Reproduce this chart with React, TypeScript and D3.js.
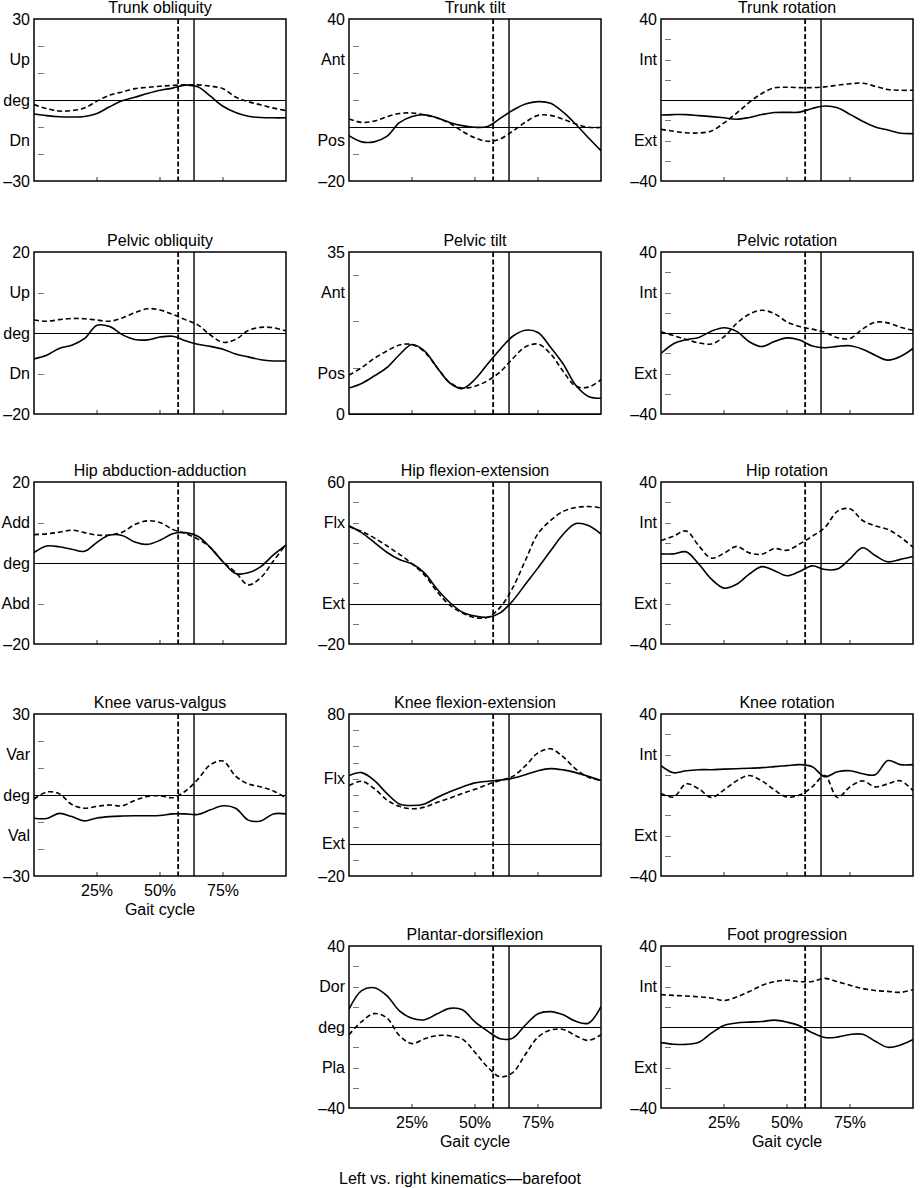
import React from 'react'
import * as d3 from 'd3'

const W = 920
const H = 1188
const FONT = '"Liberation Sans", Arial, Helvetica, sans-serif'

// frame geometry of the 3 x 5 grid
const COL_X = [34, 349, 661]
const ROW_Y = [19, 252, 482, 714, 946]
const FRAME_W = 252
const FRAME_H = 162

// gait cycle sample points (% of cycle)
const GAIT_PCT = [0, 5, 10, 15, 20, 25, 30, 35, 40, 45, 50, 55, 60, 65, 70, 75, 80, 85, 90, 95, 100]
const X_TICKS = [25, 50, 75]
const X_TICK_LABELS = ['25%', '50%', '75%']

// toe-off events (% gait cycle): dashed side, solid side
const TOE_OFF_DASHED = 57.2
const TOE_OFF_SOLID = 63.5

// ---- series values (deg) ----
const trunkObliquitySolid = [-5.2, -5.8, -6.2, -6.3, -6.1, -5.0, -2.5, -0.3, 1.0, 2.4, 3.6, 4.4, 5.5, 4.9, 1.4, -2.3, -4.6, -6.0, -6.5, -6.6, -6.6]
const trunkObliquityDashed = [-1.7, -3.2, -4.1, -3.9, -3.0, -0.4, 1.8, 3.0, 4.2, 4.7, 5.1, 5.4, 5.6, 5.6, 5.1, 4.2, 1.1, -0.6, -1.8, -3.0, -3.9]

const trunkTiltSolid = [-3.2, -5.5, -5.5, -3.5, 1.6, 3.9, 4.5, 3.4, 1.7, 0.5, -0.1, 0.2, 3.2, 6.2, 8.5, 9.4, 8.8, 5.5, 1.0, -4.0, -8.8]
const trunkTiltDashed = [3.0, 1.7, 2.2, 3.8, 5.0, 5.2, 4.5, 3.3, 1.4, -1.6, -4.0, -5.3, -4.4, -1.5, 1.8, 4.3, 4.3, 2.9, 1.1, -0.1, -0.2]

const trunkRotationSolid = [-7.4, -7.2, -7.2, -7.7, -8.2, -8.8, -9.5, -8.6, -7.2, -6.2, -6.1, -6.0, -4.2, -3.0, -3.8, -7.1, -10.5, -13.3, -14.8, -16.4, -16.6]
const trunkRotationDashed = [-14.5, -15.4, -16.2, -16.3, -15.3, -11.3, -6.5, -1.2, 3.2, 6.0, 6.3, 6.1, 6.1, 6.5, 7.3, 8.0, 8.3, 6.8, 5.2, 4.8, 4.8]

const pelvicObliquitySolid = [-6.4, -5.5, -3.8, -3.0, -1.4, 1.9, 1.6, -0.4, -1.6, -1.7, -1.0, -0.8, -1.9, -2.8, -3.3, -4.0, -5.2, -5.9, -6.6, -6.9, -6.9]
const pelvicObliquityDashed = [3.2, 2.9, 3.3, 3.6, 3.5, 3.2, 2.9, 3.7, 5.0, 6.0, 5.7, 4.6, 3.3, 2.0, -0.5, -2.3, -1.6, 0.6, 1.4, 1.3, 0.5]

const pelvicTiltSolid = [5.6, 6.6, 8.2, 10.0, 12.8, 15.0, 13.6, 10.0, 6.7, 5.5, 7.5, 10.8, 14.0, 16.8, 18.1, 17.6, 14.4, 10.8, 6.2, 3.8, 3.4]
const pelvicTiltDashed = [8.4, 10.0, 12.0, 13.6, 14.9, 15.0, 13.4, 10.0, 6.8, 5.6, 6.0, 7.2, 9.1, 12.0, 14.5, 15.1, 13.0, 9.2, 6.0, 5.8, 7.4]

const pelvicRotationSolid = [-10.1, -5.3, -3.3, -2.2, 0.9, 2.6, 0.8, -4.3, -6.7, -4.2, -2.4, -3.5, -6.4, -7.3, -6.6, -6.3, -8.0, -11.0, -13.4, -11.6, -7.6]
const pelvicRotationDashed = [0.6, -1.3, -3.2, -4.9, -5.4, -1.9, 4.7, 9.3, 11.2, 9.6, 5.5, 3.2, 1.9, 0.4, -2.3, -2.7, 2.0, 5.3, 5.0, 2.8, 1.4]

const hipAbductionSolid = [2.6, 4.2, 4.0, 3.4, 2.9, 5.1, 6.9, 6.8, 5.2, 4.6, 5.6, 7.2, 7.5, 6.6, 3.8, 0.3, -2.6, -2.4, -0.9, 2.0, 4.4]
const hipAbductionDashed = [7.0, 7.2, 7.6, 8.1, 7.5, 6.9, 6.9, 7.6, 9.5, 10.4, 10.0, 8.3, 7.3, 5.9, 3.8, 0.3, -2.3, -5.4, -3.6, 0.5, 4.6]

const hipFlexionSolid = [38.4, 35.0, 30.2, 25.3, 21.7, 19.6, 15.0, 7.0, 0.5, -4.3, -6.2, -6.8, -4.6, 1.4, 9.5, 17.6, 26.0, 34.2, 39.5, 38.5, 34.3]
const hipFlexionDashed = [37.9, 35.6, 32.4, 28.5, 24.3, 19.6, 14.0, 5.8, -0.8, -4.7, -7.0, -6.8, -1.9, 7.8, 21.3, 34.5, 41.0, 45.5, 47.4, 47.9, 47.2]

const hipRotationSolid = [4.5, 4.5, 5.5, -0.5, -8.0, -12.4, -10.5, -5.5, -1.8, -3.8, -6.3, -4.2, -1.4, -3.2, -3.0, 2.0, 7.5, 3.7, 0.6, 1.8, 3.2]
const hipRotationDashed = [11.1, 13.3, 15.8, 8.5, 2.4, 4.8, 8.2, 5.0, 4.3, 7.1, 6.3, 9.4, 13.2, 17.5, 25.5, 26.8, 21.0, 18.3, 16.6, 12.8, 7.8]

const kneeVarusSolid = [-8.6, -8.7, -6.8, -8.0, -9.6, -8.5, -8.0, -7.8, -7.7, -7.7, -7.6, -7.0, -7.0, -7.2, -5.5, -4.0, -4.9, -9.3, -9.6, -7.0, -7.0]
const kneeVarusDashed = [-1.5, 1.1, 0.5, -3.5, -4.9, -4.2, -3.7, -4.0, -2.0, -0.5, -0.3, -1.0, 1.4, 5.8, 11.2, 12.6, 7.0, 4.1, 3.0, 1.5, -1.1]

const kneeFlexionSolid = [42.0, 43.8, 39.0, 31.0, 24.5, 23.5, 24.5, 28.5, 32.0, 35.0, 37.5, 38.5, 39.2, 40.3, 42.5, 45.0, 46.3, 45.5, 43.8, 41.5, 38.9]
const kneeFlexionDashed = [35.8, 38.5, 34.0, 27.0, 23.0, 21.5, 22.5, 25.5, 28.0, 31.0, 33.5, 36.5, 39.0, 41.5, 48.0, 56.0, 58.5, 53.5, 46.0, 41.0, 38.9]

const kneeRotationSolid = [14.5, 11.0, 12.0, 12.5, 12.5, 12.8, 13.0, 13.2, 13.5, 14.0, 14.5, 15.0, 14.0, 9.0, 11.5, 12.0, 10.5, 10.0, 17.0, 15.0, 15.0]
const kneeRotationDashed = [0.7, -1.0, 5.5, 3.0, -1.2, 2.5, 7.0, 9.6, 7.0, 2.5, -1.0, 0.0, 4.0, 9.6, -1.2, 4.0, 7.0, 4.0, 5.5, 7.0, 2.2]

const plantarSolid = [8.8, 18.0, 19.4, 15.5, 8.0, 4.3, 3.6, 6.5, 9.2, 8.5, 2.5, -2.0, -5.8, -5.5, 1.0, 6.5, 7.6, 6.0, 2.8, 1.9, 10.1]
const plantarDashed = [-3.8, 2.7, 6.6, 4.5, -4.2, -8.2, -5.8, -4.2, -4.3, -6.0, -12.5, -19.8, -24.6, -22.5, -13.5, -5.0, -1.5, -1.2, -4.3, -6.6, -3.8]

const footProgressionSolid = [-7.7, -8.5, -8.6, -7.5, -3.0, 0.8, 2.0, 2.4, 2.7, 3.4, 2.4, 0.6, -2.8, -5.2, -5.0, -3.7, -3.6, -7.0, -10.0, -8.9, -6.2]
const footProgressionDashed = [16.0, 15.6, 15.3, 14.9, 14.3, 13.1, 14.8, 17.5, 20.5, 22.4, 23.1, 22.4, 22.5, 24.0, 22.4, 20.6, 19.0, 18.0, 17.6, 17.1, 18.4]

type Label = [string, number] // text, fraction from top of frame
type PanelDef = {
  title: string
  col: number
  row: number
  domain: [number, number]
  labels: Label[]
  solid: number[]
  dashed: number[]
  xLabels?: boolean
}

const mid3 = (a: string, b: string): Label[] => [[a, 0.25], ['deg', 0.5], [b, 0.75]]
const mid2 = (a: string, b: string): Label[] => [[a, 0.25], [b, 0.75]]

const PANELS: PanelDef[] = [
  { title: 'Trunk obliquity', col: 0, row: 0, domain: [-30, 30], labels: mid3('Up', 'Dn'), solid: trunkObliquitySolid, dashed: trunkObliquityDashed },
  { title: 'Trunk tilt', col: 1, row: 0, domain: [-20, 40], labels: mid2('Ant', 'Pos'), solid: trunkTiltSolid, dashed: trunkTiltDashed },
  { title: 'Trunk rotation', col: 2, row: 0, domain: [-40, 40], labels: mid2('Int', 'Ext'), solid: trunkRotationSolid, dashed: trunkRotationDashed },
  { title: 'Pelvic obliquity', col: 0, row: 1, domain: [-20, 20], labels: mid3('Up', 'Dn'), solid: pelvicObliquitySolid, dashed: pelvicObliquityDashed },
  { title: 'Pelvic tilt', col: 1, row: 1, domain: [0, 35], labels: mid2('Ant', 'Pos'), solid: pelvicTiltSolid, dashed: pelvicTiltDashed },
  { title: 'Pelvic rotation', col: 2, row: 1, domain: [-40, 40], labels: mid2('Int', 'Ext'), solid: pelvicRotationSolid, dashed: pelvicRotationDashed },
  { title: 'Hip abduction-adduction', col: 0, row: 2, domain: [-20, 20], labels: mid3('Add', 'Abd'), solid: hipAbductionSolid, dashed: hipAbductionDashed },
  { title: 'Hip flexion-extension', col: 1, row: 2, domain: [-20, 60], labels: mid2('Flx', 'Ext'), solid: hipFlexionSolid, dashed: hipFlexionDashed },
  { title: 'Hip rotation', col: 2, row: 2, domain: [-40, 40], labels: mid2('Int', 'Ext'), solid: hipRotationSolid, dashed: hipRotationDashed },
  { title: 'Knee varus-valgus', col: 0, row: 3, domain: [-30, 30], labels: mid3('Var', 'Val'), solid: kneeVarusSolid, dashed: kneeVarusDashed, xLabels: true },
  { title: 'Knee flexion-extension', col: 1, row: 3, domain: [-20, 80], labels: [['Flx', 0.4], ['Ext', 0.8]], solid: kneeFlexionSolid, dashed: kneeFlexionDashed },
  { title: 'Knee rotation', col: 2, row: 3, domain: [-40, 40], labels: mid2('Int', 'Ext'), solid: kneeRotationSolid, dashed: kneeRotationDashed },
  { title: 'Plantar-dorsiflexion', col: 1, row: 4, domain: [-40, 40], labels: mid3('Dor', 'Pla'), solid: plantarSolid, dashed: plantarDashed, xLabels: true },
  { title: 'Foot progression', col: 2, row: 4, domain: [-40, 40], labels: mid2('Int', 'Ext'), solid: footProgressionSolid, dashed: footProgressionDashed, xLabels: true },
]

const fmt = (v: number) => (v < 0 ? '\u2013' + Math.abs(v) : String(v))

function Panel({ p, idx }: { p: PanelDef; idx: number }) {
  const x0 = COL_X[p.col]
  const y0 = ROW_Y[p.row]
  const x = d3.scaleLinear().domain([0, 100]).range([x0, x0 + FRAME_W])
  const y = d3.scaleLinear().domain(p.domain).range([y0 + FRAME_H, y0])

  const line = d3.line<number>()
    .x((_, i) => x(GAIT_PCT[i]))
    .y((d) => y(d))
    .curve(d3.curveCatmullRom.alpha(0.5))

  // minor y ticks every 10 deg, skipping the ends and zero
  const yTicks = d3.range(p.domain[0], p.domain[1] + 0.001, 10)
    .filter((v) => v !== 0 && v !== p.domain[0] && v !== p.domain[1])

  const clipId = `clip-${idx}`
  const labelX = x0 - 4
  const zeroY = Math.round(y(0)) + 0.5

  return (
    <g>
      <defs>
        <clipPath id={clipId}>
          <rect x={x0} y={y0} width={FRAME_W} height={FRAME_H} />
        </clipPath>
      </defs>

      <text x={x0 + FRAME_W / 2} y={y0 - 6} textAnchor="middle" fontSize={16}>{p.title}</text>

      {/* y labels */}
      <text x={labelX} y={y0} textAnchor="end" dominantBaseline="central" fontSize={16}>{fmt(p.domain[1])}</text>
      <text x={labelX} y={y0 + FRAME_H} textAnchor="end" dominantBaseline="central" fontSize={16}>{fmt(p.domain[0])}</text>
      {p.labels.map(([t, f]) => (
        <text key={t} x={labelX} y={y0 + FRAME_H * f} textAnchor="end" dominantBaseline="central" fontSize={16}>{t}</text>
      ))}

      {/* minor ticks */}
      {yTicks.map((v) => (
        <line key={v} x1={x0 + 4} x2={x0 + 10} y1={Math.round(y(v)) + 0.5} y2={Math.round(y(v)) + 0.5} stroke="#777" strokeWidth={1} />
      ))}
      {X_TICKS.map((v) => (
        <line key={v} x1={x(v)} x2={x(v)} y1={y0 + FRAME_H} y2={y0 + FRAME_H - 4} stroke="#333" strokeWidth={1} />
      ))}

      {/* zero line */}
      <line x1={x0} x2={x0 + FRAME_W} y1={zeroY} y2={zeroY} stroke="#000" strokeWidth={1} />

      {/* toe-off markers */}
      <line x1={x(TOE_OFF_DASHED)} x2={x(TOE_OFF_DASHED)} y1={y0} y2={y0 + FRAME_H} stroke="#000" strokeWidth={1.8} strokeDasharray="5,2.5" />
      <line x1={x(TOE_OFF_SOLID)} x2={x(TOE_OFF_SOLID)} y1={y0} y2={y0 + FRAME_H} stroke="#000" strokeWidth={1.4} />

      <g clipPath={`url(#${clipId})`}>
        <path d={line(p.dashed) ?? ''} fill="none" stroke="#000" strokeWidth={1.6} strokeDasharray="5,3" />
        <path d={line(p.solid) ?? ''} fill="none" stroke="#000" strokeWidth={1.6} />
      </g>

      <rect x={x0} y={y0} width={FRAME_W} height={FRAME_H} fill="none" stroke="#000" strokeWidth={1.5} />

      {p.xLabels && (
        <g>
          {X_TICKS.map((v, i) => (
            <text key={v} x={x(v)} y={y0 + FRAME_H + 14} textAnchor="middle" dominantBaseline="central" fontSize={16}>{X_TICK_LABELS[i]}</text>
          ))}
          <text x={x0 + FRAME_W / 2} y={y0 + FRAME_H + 33} textAnchor="middle" dominantBaseline="central" fontSize={16}>Gait cycle</text>
        </g>
      )}
    </g>
  )
}

export default function App() {
  return (
    <svg
      width={W}
      height={H}
      viewBox={`0 0 ${W} ${H}`}
      style={{ position: 'absolute', left: 0, top: 0, background: '#fff' }}
      fontFamily={FONT}
      fill="#000"
    >
      <rect width={W} height={H} fill="#fff" />
      {PANELS.map((p, i) => <Panel key={p.title} p={p} idx={i} />)}
      <text x={460} y={1178} textAnchor="middle" dominantBaseline="central" fontSize={16}>
        Left vs. right kinematics—barefoot
      </text>
    </svg>
  )
}
